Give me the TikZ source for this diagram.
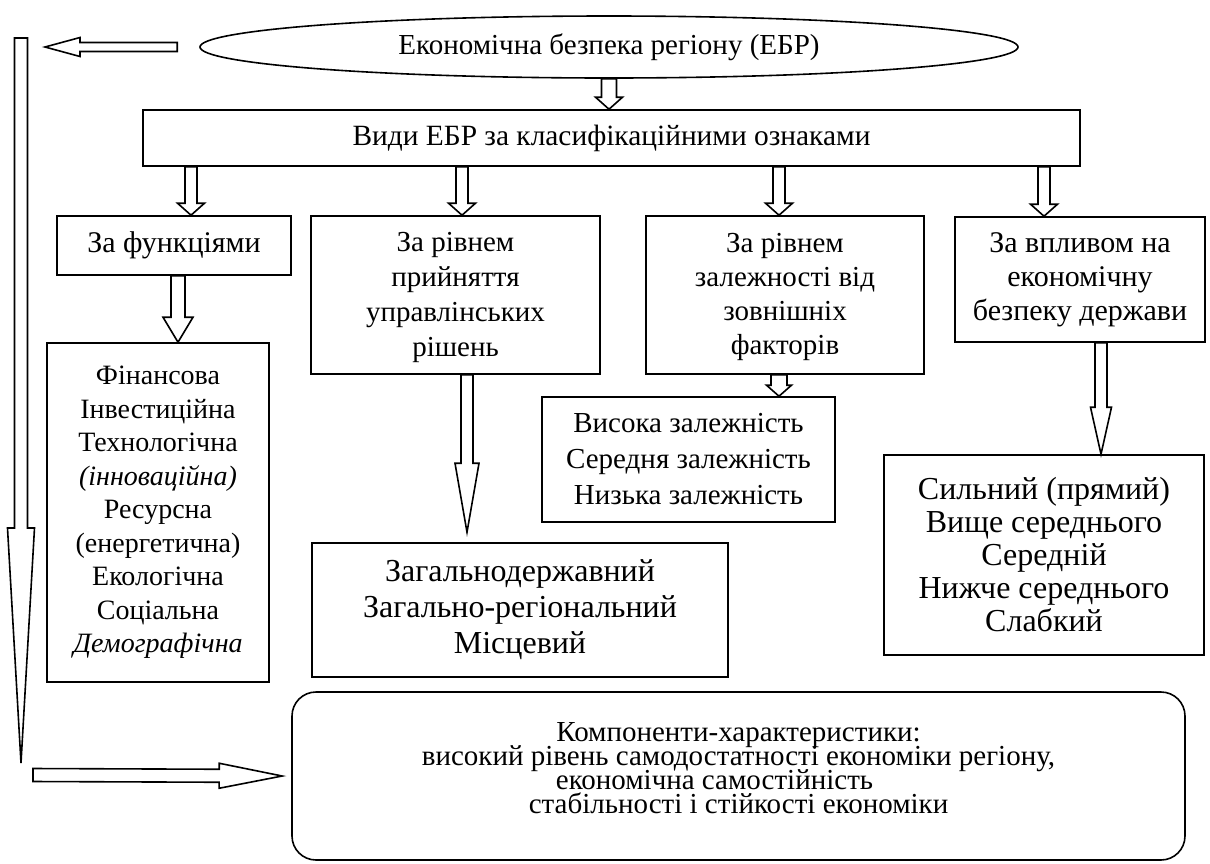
\documentclass[tikz,border=0pt]{standalone}
\usepackage{fontspec}
\setmainfont{Liberation Serif}
\usetikzlibrary{calc,positioning,shapes.geometric}
\tikzset{
box/.style={rectangle, draw=black, line width=0.8pt, align=center, inner sep=2pt, font=\fontsize{14.5}{17}\selectfont},
oval/.style={ellipse, draw=black, line width=0.8pt, minimum width=409pt, minimum height=31pt, inner sep=0pt, font=\fontsize{14.5}{17}\selectfont},
roundbox/.style={box, rounded corners=12pt},
hollow/.style={draw=black, line width=0.8pt, line join=miter},
}
% block arrow: from, to, half shaft, half head, head length
\newcommand{\blockarrow}[5]{%
\coordinate (ba_base) at ($(#2)!#5!(#1)$);
\draw[hollow] ($(#1)!#3!90:(#2)$) -- ($(ba_base)!#3!-90:(#1)$) -- ($(ba_base)!#4!-90:(#1)$) -- (#2) -- ($(ba_base)!#4!90:(#1)$) -- ($(ba_base)!#3!90:(#1)$) -- ($(#1)!#3!-90:(#2)$) -- cycle;
}

\begin{document}
\begin{tikzpicture}
[x=0.5pt, y=-0.5pt]
\useasboundingbox (0,0) rectangle (1210,863);

\node[oval] (ebr) at (609,47) {Економічна безпека регіону (ЕБР)};
\node[box, minimum width=468.5pt, minimum height=28pt, font=\fontsize{14.7}{17}\selectfont] (vydy) at (611.5,138) {Види ЕБР за класифікаційними ознаками};

\node[box, minimum width=117pt, minimum height=29.5pt, font=\fontsize{15}{17}\selectfont] (za_funk) at (174,245.5) {За функціями};
\node[box, minimum width=144.5pt, minimum height=79pt, font=\fontsize{14.5}{17.5}\selectfont] (za_rivnem) at (455.5,295) {\strut За рівнем\\прийняття\\управлінських\\рішень};
\node[box, minimum width=139pt, minimum height=79pt] (za_zal) at (785,295) {\strut За рівнем\\залежності від\\зовнішніх\\факторів};
\node[box, minimum width=125pt, minimum height=62.5pt, font=\fontsize{15}{17}\selectfont] (za_vplyv) at (1080,279.5) {За впливом на\\економічну\\безпеку держави};

\node[box, minimum width=111pt, minimum height=169.5pt, font=\fontsize{14}{16.75}\selectfont] (funkcii) at (158,512.5) {Фінансова\\Інвестиційна\\Технологічна\\\textit{(інноваційна)}\\Ресурсна\\(енергетична)\\Екологічна\\Соціальна\\\textit{Демографічна}};
\node[box, minimum width=208pt, minimum height=67pt, font=\fontsize{16}{18}\selectfont] (zag) at (520,610) {Загальнодержавний\\Загально-регіональний\\Місцевий};
\node[box, minimum width=146.5pt, minimum height=62.5pt, font=\fontsize{14.5}{18}\selectfont] (vysoka) at (688.5,459.5) {Висока залежність\\Середня залежність\\Низька залежність};
\node[box, minimum width=160pt, minimum height=100pt, font=\fontsize{16}{16.5}\selectfont] (sylnyi) at (1044,555) {Сильний (прямий)\\Вище середнього\\Середній\\Нижче середнього\\Слабкий};

\node[roundbox, minimum width=446.5pt, minimum height=84pt, font=\fontsize{14.5}{12}\selectfont] (komp) at (738.5,776) {\raisebox{0pt}[\height][\dimexpr\depth+8pt\relax]{\parbox{440pt}{\centering\setlength{\lineskiplimit}{-100pt}Компоненти-характеристики:\\високий рівень самодостатності економіки регіону,\\економічна самостійність\hspace*{24pt}\mbox{}\\стабільності і стійкості економіки}}};

% arrows
\coordinate (e_out) at (ebr.south);
\coordinate (v_in) at (ebr.south |- vydy.north);
\blockarrow{e_out}{v_in}{3.75pt}{6.75pt}{6pt}

\foreach \target/\dx in {za_funk/8.5pt, za_rivnem/3.25pt, za_zal/-3pt, za_vplyv/-18pt} {
\coordinate (v_out) at ([xshift=\dx]\target.north |- vydy.south);
\coordinate (t_in) at ([xshift=\dx]\target.north);
\blockarrow{v_out}{t_in}{3pt}{6.75pt}{6pt}
}

\coordinate (f_out) at ([xshift=2pt]za_funk.south);
\coordinate (f_in) at (f_out |- funkcii.north);
\blockarrow{f_out}{f_in}{3.5pt}{7.5pt}{12.5pt}

\coordinate (r_out) at ([xshift=5.75pt]za_rivnem.south);
\coordinate (r_in) at ([yshift=5pt]r_out |- zag.north);
\blockarrow{r_out}{r_in}{3pt}{6pt}{34.5pt}

\coordinate (z_out) at ([xshift=-3pt]za_zal.south);
\coordinate (z_in) at (z_out |- vysoka.north);
\blockarrow{z_out}{z_in}{4pt}{6.25pt}{5.5pt}

\coordinate (p_out) at ([xshift=10.5pt]za_vplyv.south);
\coordinate (p_in) at (p_out |- sylnyi.north);
\blockarrow{p_out}{p_in}{3pt}{5.25pt}{23.5pt}

% left loop
\coordinate (back_start) at ([xshift=-11pt]ebr.west);
\coordinate (back_end) at (45,47);
\blockarrow{back_start}{back_end}{2.25pt}{4.75pt}{17.5pt}

\coordinate (loop_top) at (21,38);
\coordinate (loop_bot) at (21,763);
\blockarrow{loop_top}{loop_bot}{3.25pt}{6.75pt}{117.5pt}

\coordinate (out_start) at (33,775);
\coordinate (out_end) at ([xshift=-4.5pt]komp.west);
\blockarrow{out_start}{out_end}{3.25pt}{6.25pt}{31.5pt}

\end{tikzpicture}
\end{document}
